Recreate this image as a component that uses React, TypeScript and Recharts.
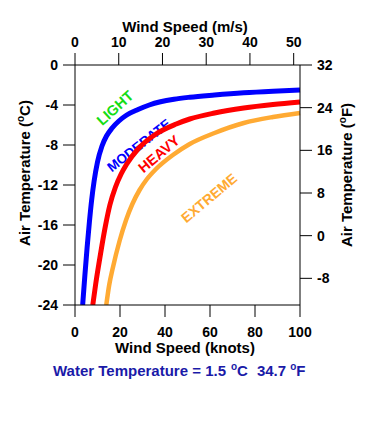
import React from "react";
import { LineChart, Line, XAxis, YAxis, Customized } from "recharts";

const knotTicks = [0, 20, 40, 60, 80, 100];
const msTicks = [0, 10, 20, 30, 40, 50];
const cTicks = [0, -4, -8, -12, -16, -20, -24];
const fTicks = [32, 24, 16, 8, 0, -8];

// [wind speed (knots), air temperature (°C)]
const lightModerate = [
  [3.4, -24], [4.4, -21], [5.4, -18.2], [6.4, -15.7], [7.4, -13.5], [8.5, -11.6], [10, -9.7],
  [12, -8.1], [14, -7.1], [16.5, -6.3], [19.5, -5.6], [23, -5.0], [28, -4.45], [33, -4.0],
  [38, -3.68], [44, -3.42], [51, -3.22], [62, -3.0], [75, -2.78], [88, -2.62], [100, -2.5],
];
const moderateHeavy = [
  [7.9, -24], [9.2, -21.9], [10.6, -19.9], [12, -18], [13.6, -16], [15.5, -14], [18, -12.2],
  [20.5, -10.9], [23, -9.9], [28, -8.4], [36, -6.9], [45, -5.9], [51, -5.4], [62, -4.8],
  [75, -4.3], [88, -3.95], [100, -3.7],
];
const heavyExtreme = [
  [13.9, -24], [15.2, -22], [16.8, -20.3], [19.8, -17.6], [22.7, -15.5], [25.5, -13.9], [28.7, -12.5],
  [32, -11.4], [36, -10.4], [43.5, -9.0], [51, -7.9], [62, -6.8], [75, -5.8], [88, -5.2], [100, -4.8],
];
// invisible anchor for the secondary (m/s, °F) axes, from their tick labels
const secondaryAnchor = [
  { ms: 0, f: 32 },
  { ms: 50, f: -8 },
];

const toRows = (arr: number[][]) => arr.map(([kn, t]) => ({ kn, t }));

const FONT = "'Liberation Sans', Arial, Helvetica, sans-serif";
const tickStyle = { fontSize: 14, fontWeight: "bold", fill: "#000", fontFamily: FONT };
const axisLine = { stroke: "#000", strokeWidth: 1 };

const Annotations = () => (
  <g fontFamily={FONT} fontWeight="bold">
    <text x={185} y={32} fontSize={15} textAnchor="middle" fill="#000">Wind Speed (m/s)</text>
    <text x={185} y={353} fontSize={15} textAnchor="middle" fill="#000">Wind Speed (knots)</text>
    <text x={53} y={376} fontSize={15} fill="#1a1aa8">
      Water Temperature = 1.5
      <tspan fontSize={10} dx={5} dy={-6}>o</tspan>
      <tspan fontSize={15} dy={6}>C</tspan>
      <tspan fontSize={15} dx={9}>34.7</tspan>
      <tspan fontSize={10} dx={4} dy={-6}>o</tspan>
      <tspan fontSize={15} dy={6}>F</tspan>
    </text>
    <text transform="translate(30,173) rotate(-90)" fontSize={15} textAnchor="middle" fill="#000">
      Air Temperature (<tspan fontSize={10} dy={-6}>o</tspan><tspan dy={6}>C)</tspan>
    </text>
    <text transform="translate(352,175) rotate(-90)" fontSize={15} textAnchor="middle" fill="#000">
      Air Temperature (<tspan fontSize={10} dy={-6}>o</tspan><tspan dy={6}>F)</tspan>
    </text>
    <text transform="translate(115,108) rotate(-42)" fontSize={14.5} textAnchor="middle" dominantBaseline="central" fill="#14dd14">LIGHT</text>
    <text transform="translate(139,145.5) rotate(-38)" fontSize={13.5} textAnchor="middle" dominantBaseline="central" fill="#0000ff">MODERATE</text>
    <text transform="translate(159,154) rotate(-40)" fontSize={14.5} textAnchor="middle" dominantBaseline="central" fill="#ff0000">HEAVY</text>
    <text transform="translate(209,198) rotate(-40)" fontSize={14} textAnchor="middle" dominantBaseline="central" fill="#ffaa33">EXTREME</text>
  </g>
);

export default function App() {
  return (
    <div style={{ position: "absolute", left: 0, top: 0, background: "#fff" }}>
      <LineChart width={375} height={435} margin={{ top: 0, right: 0, bottom: 0, left: 0 }}>
        <XAxis
          xAxisId="kn" dataKey="kn" type="number" orientation="bottom" domain={[0, 100]} ticks={knotTicks}
          height={130} tickSize={12} tickMargin={10} axisLine={axisLine} tickLine={axisLine} tick={tickStyle} interval={0}
        />
        <XAxis
          xAxisId="ms" dataKey="ms" type="number" orientation="top" domain={[0, 100 / 1.94384]} ticks={msTicks} allowDataOverflow
          height={65} tickSize={12} tickMargin={6} axisLine={axisLine} tickLine={axisLine} tick={tickStyle} interval={0}
        />
        <YAxis
          yAxisId="C" type="number" orientation="left" domain={[-24, 0]} ticks={cTicks} allowDataOverflow
          width={75} tickSize={12} tickMargin={5} axisLine={axisLine} tickLine={axisLine} tick={tickStyle} interval={0}
        />
        <YAxis
          yAxisId="F" type="number" orientation="right" domain={[-13, 32]} ticks={fTicks} allowDataOverflow
          width={75} tickSize={12} tickMargin={5} axisLine={axisLine} tickLine={axisLine} tick={tickStyle} interval={0}
        />
        <Line data={secondaryAnchor} xAxisId="ms" yAxisId="F" dataKey="f" stroke="none" strokeWidth={0} dot={false} activeDot={false} legendType="none" isAnimationActive={false} />
        <Line data={toRows(lightModerate)} xAxisId="kn" yAxisId="C" dataKey="t" type="monotone" stroke="#0000ff" strokeWidth={5} dot={false} isAnimationActive={false} />
        <Line data={toRows(moderateHeavy)} xAxisId="kn" yAxisId="C" dataKey="t" type="monotone" stroke="#ff0000" strokeWidth={5} dot={false} isAnimationActive={false} />
        <Line data={toRows(heavyExtreme)} xAxisId="kn" yAxisId="C" dataKey="t" type="monotone" stroke="#ffaa33" strokeWidth={4.5} dot={false} isAnimationActive={false} />
        <Customized component={<Annotations />} />
      </LineChart>
    </div>
  );
}
